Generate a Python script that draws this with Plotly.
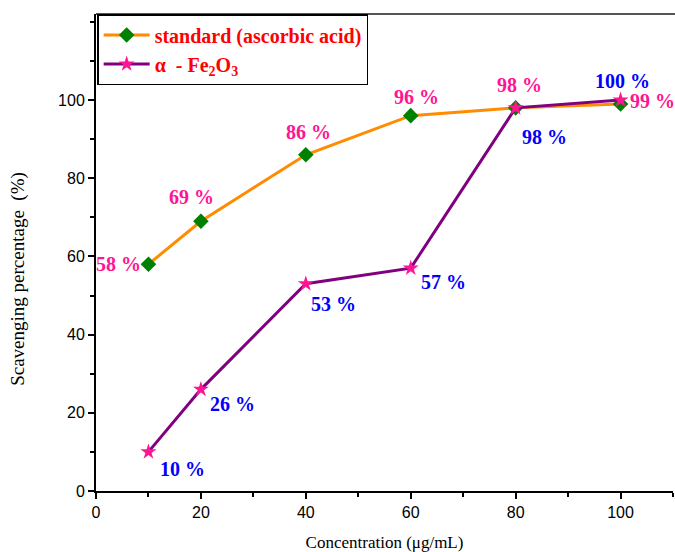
import plotly.graph_objects as go

# Concentrations (µg/mL) and scavenging percentages
concentration = [10, 20, 40, 60, 80, 100]
ascorbic_acid = [58, 69, 86, 96, 98, 99]
fe2o3 = [10, 26, 53, 57, 98, 100]

x_ticks = [0, 20, 40, 60, 80, 100]
y_ticks = [0, 20, 40, 60, 80, 100]

SERIF = "Liberation Serif, Times New Roman, serif"
SANS = "Liberation Sans, Arial, sans-serif"

fig = go.Figure()

fig.add_trace(go.Scatter(
    x=concentration, y=ascorbic_acid, mode="lines+markers",
    name="<b>standard (ascorbic acid)</b>",
    line=dict(color="#FF8C00", width=3),
    marker=dict(symbol="diamond", size=12, color="#008000"),
))
fig.add_trace(go.Scatter(
    x=concentration, y=fe2o3, mode="lines+markers",
    name="<b>α  - Fe<sub>2</sub>O<sub>3</sub></b>",
    line=dict(color="#800080", width=3),
    marker=dict(symbol="star", size=12, color="#FF1493"),
))

# value labels: (x shift, y shift, anchor) per point
std_offsets = [(-5, 0, "right"), (-9, 24, "center"), (3, 23, "center"),
               (6, 19, "center"), (4, 23, "center"), (7, 3, "left")]
fe_offsets = [(10, -17, "left"), (7, -15, "left"), (3, -20, "left"),
              (8, -14, "left"), (4, -29, "left"), (2, 19, "center")]

annotations = []
for xv, yv, (dx, dy, anc) in zip(concentration, ascorbic_acid, std_offsets):
    annotations.append(dict(
        x=xv, y=yv, xref="x", yref="y", text=f"<b>{yv} %</b>", showarrow=False,
        xanchor=anc, yanchor="middle", xshift=dx, yshift=dy,
        font=dict(family=SERIF, size=20, color="#FF1493"),
    ))
for xv, yv, (dx, dy, anc) in zip(concentration, fe2o3, fe_offsets):
    annotations.append(dict(
        x=xv, y=yv, xref="x", yref="y", text=f"<b>{yv} %</b>", showarrow=False,
        xanchor=anc, yanchor="middle", xshift=dx, yshift=dy,
        font=dict(family=SERIF, size=20, color="#0000FF"),
    ))

# y-axis title
annotations.append(dict(
    x=-0.135, y=0.445, xref="paper", yref="paper", text="Scavenging percentage\u00a0\u00a0(%)",
    textangle=-90, showarrow=False, xanchor="center", yanchor="middle",
    font=dict(family=SERIF, size=19, color="black"),
))

fig.update_layout(
    width=675, height=552,
    margin=dict(l=96, r=2, t=14, b=61),
    paper_bgcolor="white", plot_bgcolor="white",
    showlegend=True,
    legend=dict(
        x=0.002, y=1.0, xanchor="left", yanchor="top",
        bgcolor="white", bordercolor="black", borderwidth=1.5,
        font=dict(family=SERIF, size=20, color="#FF0000"),
        tracegroupgap=0, itemwidth=46,
    ),
    annotations=annotations,
    # top frame line
    shapes=[dict(type="line", xref="paper", yref="paper", x0=0, x1=1.01, y0=1, y1=1,
                 line=dict(color="#555555", width=2), layer="below")],
)

fig.update_xaxes(
    range=[0, 110], tickvals=x_ticks,
    showgrid=False, zeroline=False,
    showline=True, linecolor="black", linewidth=2, mirror=False,
    ticks="outside", ticklen=6, tickwidth=1.5, tickcolor="black",
    minor=dict(ticks="outside", ticklen=4, tickwidth=1.5, tickcolor="black", dtick=10, showgrid=False),
    tickfont=dict(family=SANS, size=16, color="black"),
    title=dict(text="Concentration (μg/mL)", font=dict(family=SERIF, size=17, color="black"), standoff=16),
)
fig.update_yaxes(
    range=[0, 122], tickvals=y_ticks,
    showgrid=False, zeroline=False,
    showline=True, linecolor="black", linewidth=2, mirror=False,
    ticks="outside", ticklen=6, tickwidth=1.5, tickcolor="black",
    minor=dict(ticks="outside", ticklen=4, tickwidth=1.5, tickcolor="black", dtick=10, showgrid=False),
    tickfont=dict(family=SANS, size=16, color="black"),
)

fig.write_html("out.html")
